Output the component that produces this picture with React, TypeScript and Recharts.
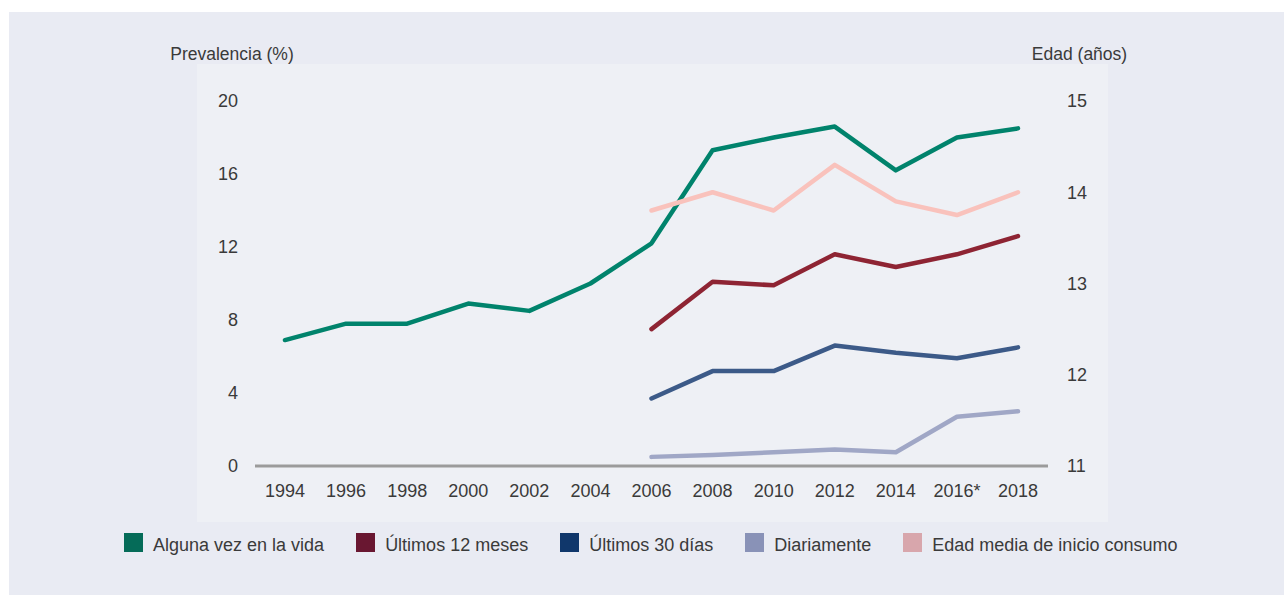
import { LineChart, Line, XAxis, YAxis, Legend } from 'recharts'

// 調查年份（2016* 為方法調整年）
const years = ['1994', '1996', '1998', '2000', '2002', '2004', '2006', '2008', '2010', '2012', '2014', '2016*', '2018']

// 盛行率（%），左軸
const algunaVez = [6.9, 7.8, 7.8, 8.9, 8.5, 10.0, 12.2, 17.3, 18.0, 18.6, 16.2, 18.0, 18.5]
const ultimos12 = [null, null, null, null, null, null, 7.5, 10.1, 9.9, 11.6, 10.9, 11.6, 12.6]
const ultimos30 = [null, null, null, null, null, null, 3.7, 5.2, 5.2, 6.6, 6.2, 5.9, 6.5]
const diariamente = [null, null, null, null, null, null, 0.5, 0.6, 0.75, 0.9, 0.75, 2.7, 3.0]

// 平均開始年齡（歲），右軸
const edadInicio = [null, null, null, null, null, null, 13.8, 14.0, 13.8, 14.3, 13.9, 13.75, 14.0]

const leftTicks = [0, 4, 8, 12, 16, 20]
const rightTicks = [11, 12, 13, 14, 15]

const data = years.map((year, i) => ({
  year,
  alguna: algunaVez[i],
  u12: ultimos12[i],
  u30: ultimos30[i],
  diario: diariamente[i],
  edad: edadInicio[i],
}))

const FONT = '"Liberation Sans", Arial, Helvetica, sans-serif'
const TEXT = '#3a3a3a'

/** 系列設定：線色與圖例方塊色略有不同 */
const SERIES = [
  { key: 'alguna', name: 'Alguna vez en la vida', line: '#00836c', box: '#056b58', axis: 'left' },
  { key: 'u12', name: 'Últimos 12 meses', line: '#8e2433', box: '#691731', axis: 'left' },
  { key: 'u30', name: 'Últimos 30 días', line: '#3c5a88', box: '#10376b', axis: 'left' },
  { key: 'diario', name: 'Diariamente', line: '#a0a7c6', box: '#8992b7', axis: 'left' },
  { key: 'edad', name: 'Edad media de inicio consumo', line: '#f9c2bc', box: '#d8a6ac', axis: 'right' },
]

function LegendRow() {
  return (
    <div style={{ display: 'flex', alignItems: 'flex-start', fontFamily: FONT, fontSize: 18, color: TEXT }}>
      {SERIES.map(s => (
        <div key={s.key} style={{ display: 'flex', alignItems: 'flex-start', marginRight: 32 }}>
          <span style={{ width: 19, height: 19, background: s.box, marginRight: 10, display: 'inline-block' }} />
          {/* 文字基線對齊方塊底部 */}
          <span style={{ lineHeight: '19px', whiteSpace: 'nowrap', position: 'relative', top: 3 }}>{s.name}</span>
        </div>
      ))}
    </div>
  )
}

export default function App() {
  return (
    <div style={{ position: 'absolute', left: 0, top: 0, width: 1284, height: 595, background: '#ffffff', overflow: 'hidden' }}>
      {/* 外框底色 */}
      <div style={{ position: 'absolute', left: 9, top: 12, width: 1275, height: 583, background: '#e9ebf3' }} />
      {/* 繪圖區較淺的面板 */}
      <div style={{ position: 'absolute', left: 197, top: 64, width: 911, height: 458, background: '#eef0f5' }} />
      <div style={{ position: 'absolute', left: 0, top: 0 }}>
        <LineChart width={1284} height={595} data={data} margin={{ top: 101, right: 173, left: 209, bottom: 89 }}>
          <XAxis
            dataKey="year"
            height={40}
            padding={{ left: 30, right: 30 }}
            axisLine={{ stroke: '#9b9b9b', strokeWidth: 3 }}
            tickLine={false}
            tickSize={0}
            tickMargin={18}
            interval={0}
            tick={{ fontSize: 18, fill: TEXT, fontFamily: FONT }}
          />
          <YAxis
            yAxisId="left"
            width={46}
            domain={[0, 20]}
            ticks={leftTicks}
            axisLine={false}
            tickLine={false}
            tickSize={0}
            tickMargin={17}
            tick={{ fontSize: 18, fill: TEXT, fontFamily: FONT }}
            label={{ value: 'Prevalencia (%)', position: 'top', offset: 41, fontSize: 17.5, fill: TEXT, fontFamily: FONT }}
          />
          <YAxis
            yAxisId="right"
            orientation="right"
            width={63}
            domain={[11, 15]}
            ticks={rightTicks}
            axisLine={false}
            tickLine={false}
            tickSize={0}
            tickMargin={19}
            tick={{ fontSize: 18, fill: TEXT, fontFamily: FONT, textAnchor: 'start' }}
            label={{ value: 'Edad (años)', position: 'top', offset: 41, fontSize: 17.5, fill: TEXT, fontFamily: FONT }}
          />
          <Legend
            layout="horizontal"
            verticalAlign="middle"
            align="center"
            wrapperStyle={{ top: 533, left: 124, width: 1150, height: 24 }}
            content={() => <LegendRow />}
          />
          {SERIES.map(s => (
            <Line
              key={s.key}
              yAxisId={s.axis}
              dataKey={s.key}
              name={s.name}
              type="linear"
              stroke={s.line}
              strokeWidth={4.5}
              strokeLinecap="round"
              strokeLinejoin="round"
              dot={false}
              activeDot={false}
              connectNulls={false}
              isAnimationActive={false}
            />
          ))}
        </LineChart>
      </div>
    </div>
  )
}
